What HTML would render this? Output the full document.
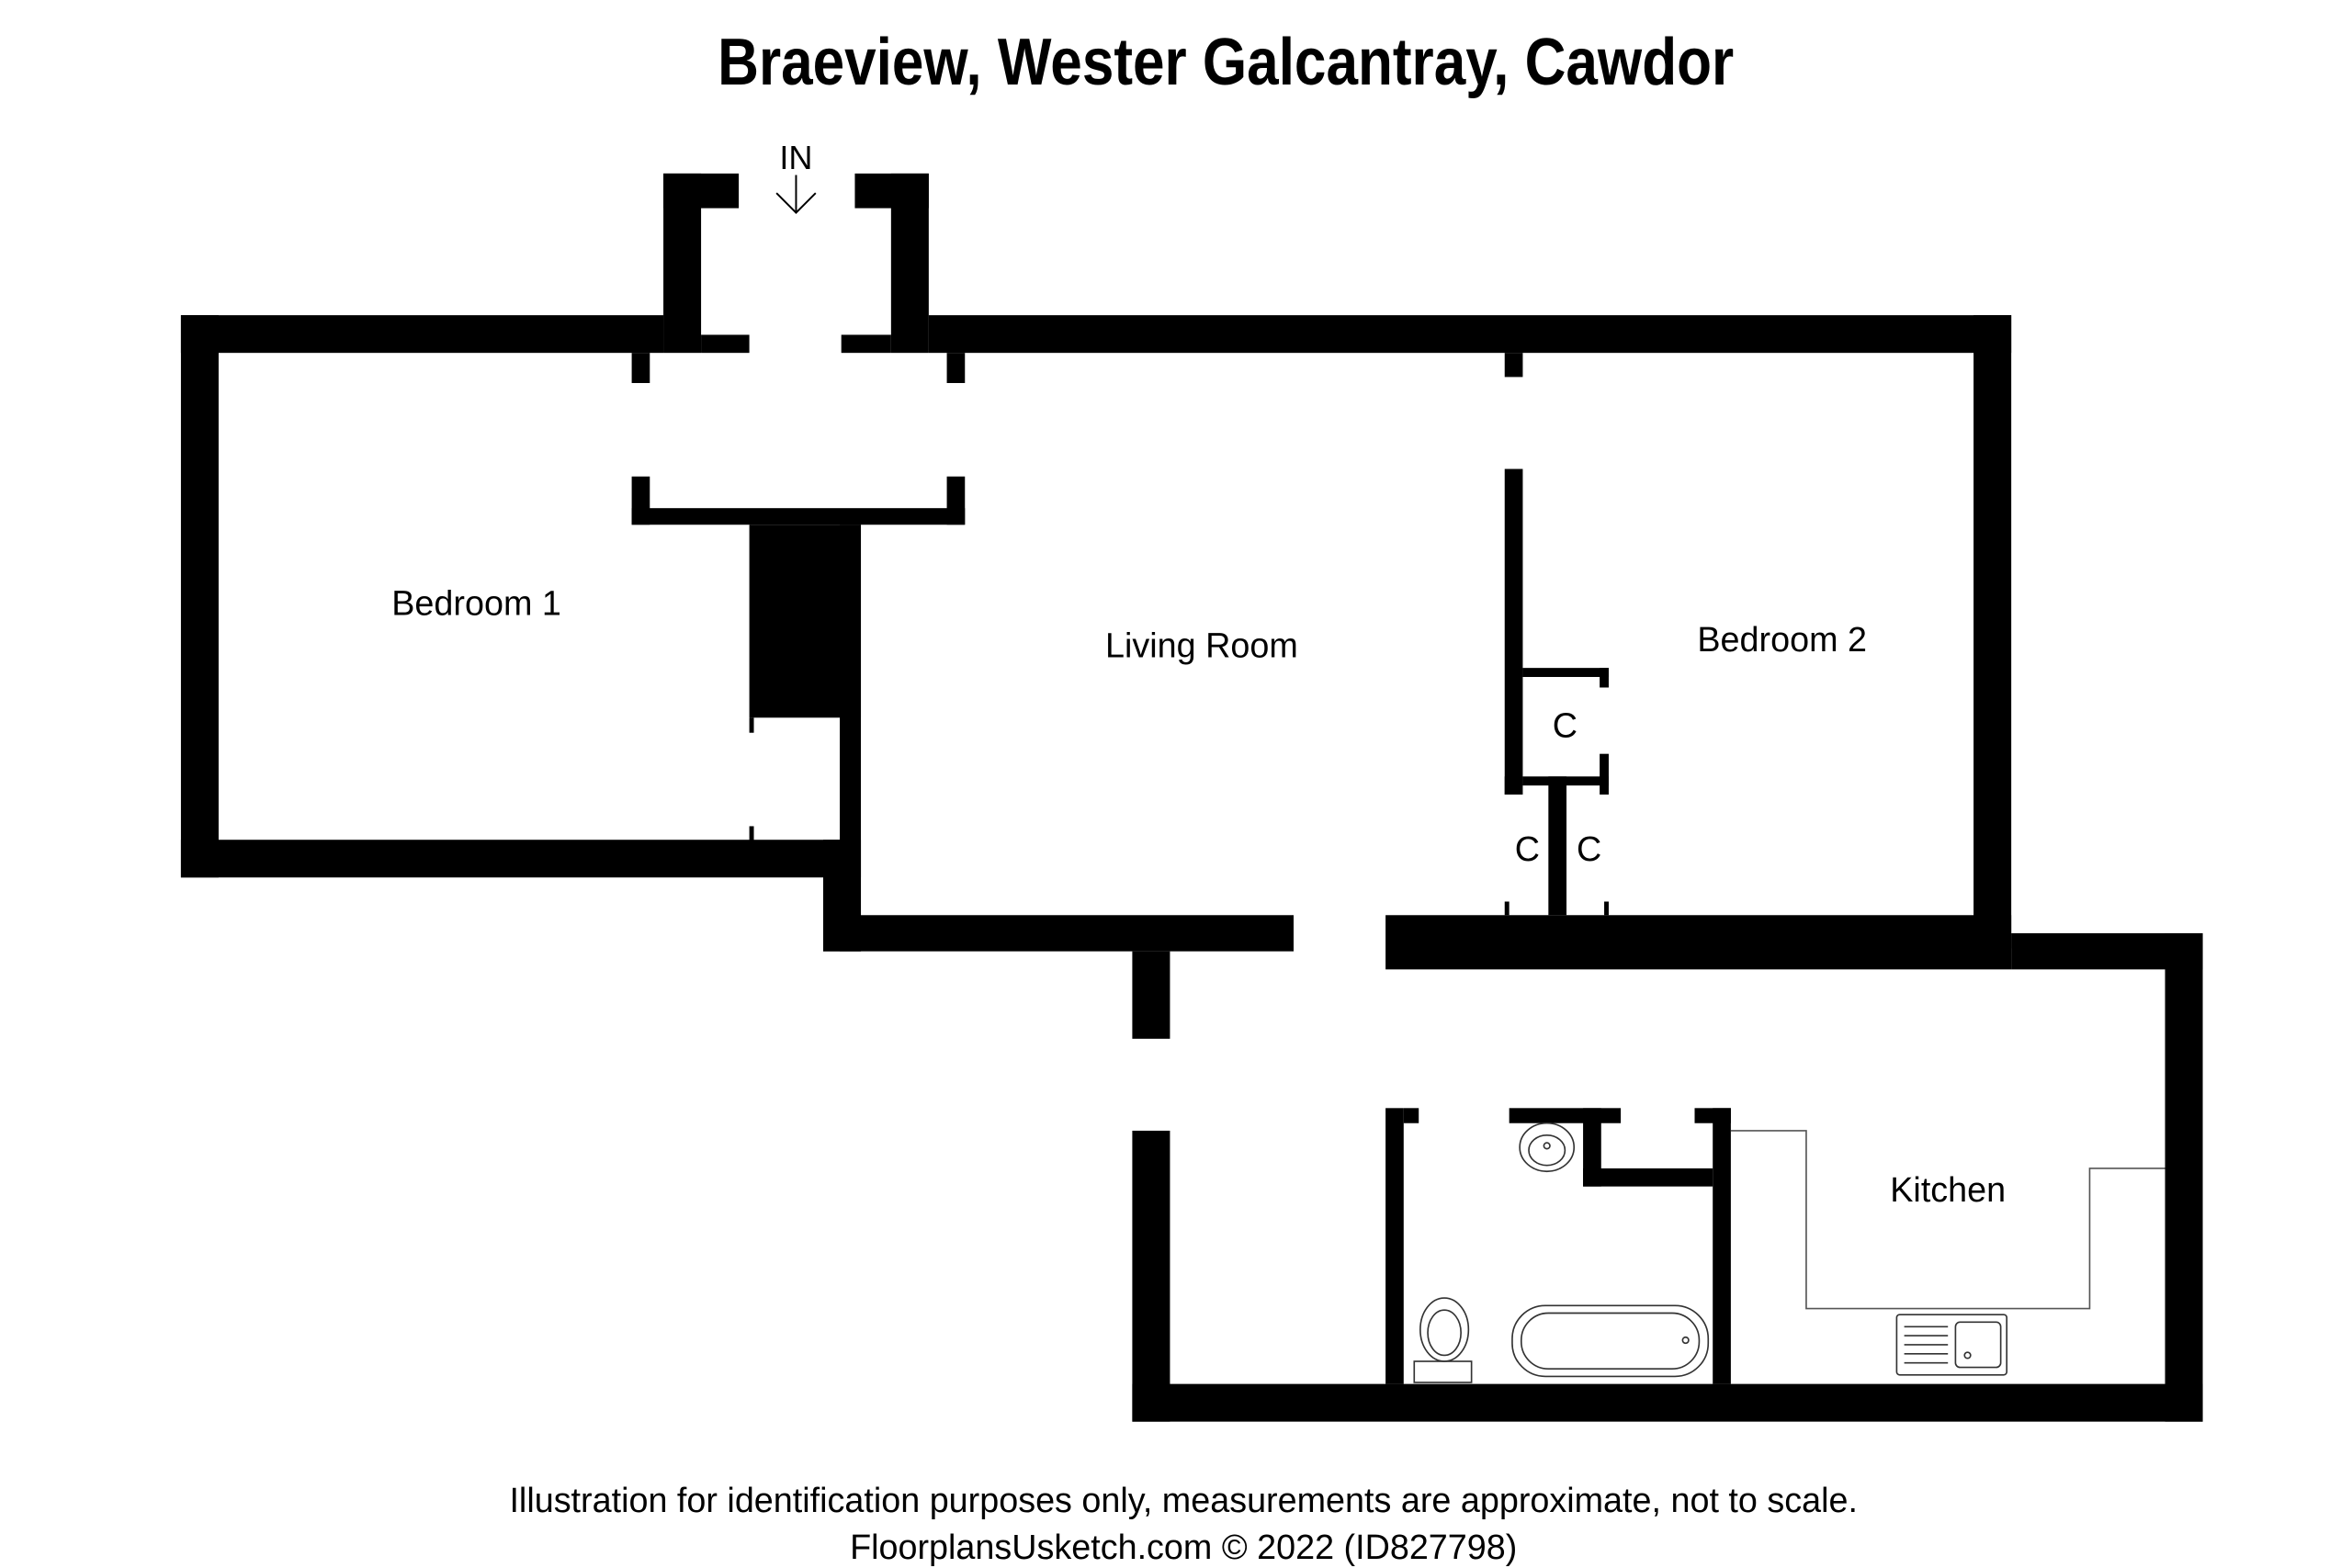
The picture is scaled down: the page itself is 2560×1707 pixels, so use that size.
<!DOCTYPE html>
<html><head><meta charset="utf-8"><style>
html,body{margin:0;padding:0;background:#fff;}
svg{display:block;}
text{font-family:"Liberation Sans Narrow","Liberation Sans",sans-serif;fill:#000;}
</style></head><body>
<svg width="2560" height="1707" viewBox="0 0 1560 1040" xmlns="http://www.w3.org/2000/svg">
<rect width="1560" height="1040" fill="#fff"/>
<text x="476" y="56" font-size="44" font-weight="bold" textLength="674" lengthAdjust="spacingAndGlyphs">Braeview, Wester Galcantray, Cawdor</text>
<text x="528" y="112" font-size="22" text-anchor="middle">IN</text>
<g stroke="#000" stroke-width="1.2" fill="none"><line x1="528" y1="116" x2="528" y2="141"/><polyline points="515,128 528,141 541,128"/></g>
<g fill="#000">
<rect x="440" y="115" width="50" height="23"/>
<rect x="440" y="115" width="25" height="119"/>
<rect x="567" y="115" width="49" height="23"/>
<rect x="591" y="115" width="25" height="119"/>
<rect x="465" y="222" width="32" height="12"/>
<rect x="558" y="222" width="33" height="12"/>
<rect x="120" y="209" width="320" height="25"/>
<rect x="616" y="209" width="718" height="25"/>
<rect x="120" y="209" width="25" height="373"/>
<rect x="120" y="557" width="451" height="25"/>
<rect x="557" y="348" width="14" height="283"/>
<rect x="546" y="557" width="25" height="74"/>
<rect x="497" y="348" width="74" height="128"/>
<rect x="497" y="476" width="3" height="10"/>
<rect x="497" y="548" width="3" height="10"/>
<rect x="546" y="607" width="312" height="24"/>
<rect x="751" y="631" width="25" height="58"/>
<rect x="419" y="234" width="12" height="20"/>
<rect x="628" y="234" width="12" height="20"/>
<rect x="419" y="316" width="12" height="32"/>
<rect x="628" y="316" width="12" height="32"/>
<rect x="419" y="337" width="221" height="11"/>
<rect x="998" y="234" width="12" height="16"/>
<rect x="998" y="311" width="12" height="216"/>
<rect x="1010" y="443" width="57" height="6"/>
<rect x="1061" y="443" width="6" height="13"/>
<rect x="1010" y="515" width="57" height="6"/>
<rect x="1061" y="500" width="6" height="27"/>
<rect x="998" y="515" width="4" height="12"/>
<rect x="1027" y="515" width="12" height="92"/>
<rect x="998" y="598" width="3" height="9"/>
<rect x="1064" y="598" width="3" height="9"/>
<rect x="1309" y="209" width="25" height="420"/>
<rect x="919" y="607" width="415" height="36"/>
<rect x="1334" y="619" width="127" height="24"/>
<rect x="1436" y="619" width="25" height="324"/>
<rect x="751" y="918" width="710" height="25"/>
<rect x="751" y="750" width="25" height="193"/>
<rect x="919" y="735" width="12" height="183"/>
<rect x="931" y="735" width="10" height="10"/>
<rect x="1136" y="735" width="12" height="183"/>
<rect x="1124" y="735" width="24" height="10"/>
<rect x="1001" y="735" width="74" height="10"/>
<rect x="1050" y="735" width="12" height="52"/>
<rect x="1050" y="775" width="86" height="12"/>
</g>
<polyline points="1148,750 1198,750 1198,868 1386,868 1386,775 1436,775" fill="none" stroke="#555" stroke-width="1"/>
<g fill="none" stroke="#333" stroke-width="1">
<rect x="1258" y="872" width="73" height="40" rx="2"/>
<rect x="1297" y="877" width="30" height="30" rx="3"/>
<circle cx="1305" cy="899" r="2"/>
<line x1="1263" y1="880" x2="1292" y2="880"/><line x1="1263" y1="886" x2="1292" y2="886"/><line x1="1263" y1="892" x2="1292" y2="892"/><line x1="1263" y1="898" x2="1292" y2="898"/><line x1="1263" y1="904" x2="1292" y2="904"/>
<ellipse cx="958" cy="882" rx="16" ry="21"/>
<ellipse cx="958" cy="884" rx="11" ry="15"/>
<rect x="938" y="903" width="38" height="14"/>
<rect x="1003" y="866" width="130" height="47" rx="22"/>
<rect x="1009" y="871" width="118" height="37" rx="18"/>
<circle cx="1118" cy="889" r="2"/>
<ellipse cx="1026" cy="761" rx="18" ry="16"/>
<ellipse cx="1026" cy="763" rx="12" ry="10"/>
<circle cx="1026" cy="760" r="2"/>
</g>
<g font-size="23">
<text x="316" y="408" text-anchor="middle">Bedroom 1</text>
<text x="797" y="436" text-anchor="middle">Living Room</text>
<text x="1182" y="432" text-anchor="middle">Bedroom 2</text>
<text x="1038" y="489" text-anchor="middle">C</text>
<text x="1013" y="571" text-anchor="middle">C</text>
<text x="1054" y="571" text-anchor="middle">C</text>
<text x="1292" y="797" text-anchor="middle">Kitchen</text>
<text x="785" y="1003" text-anchor="middle">Illustration for identification purposes only, measurements are approximate, not to scale.</text>
<text x="785" y="1034" text-anchor="middle">FloorplansUsketch.com © 2022 (ID827798)</text>
</g>
</svg>
</body></html>
